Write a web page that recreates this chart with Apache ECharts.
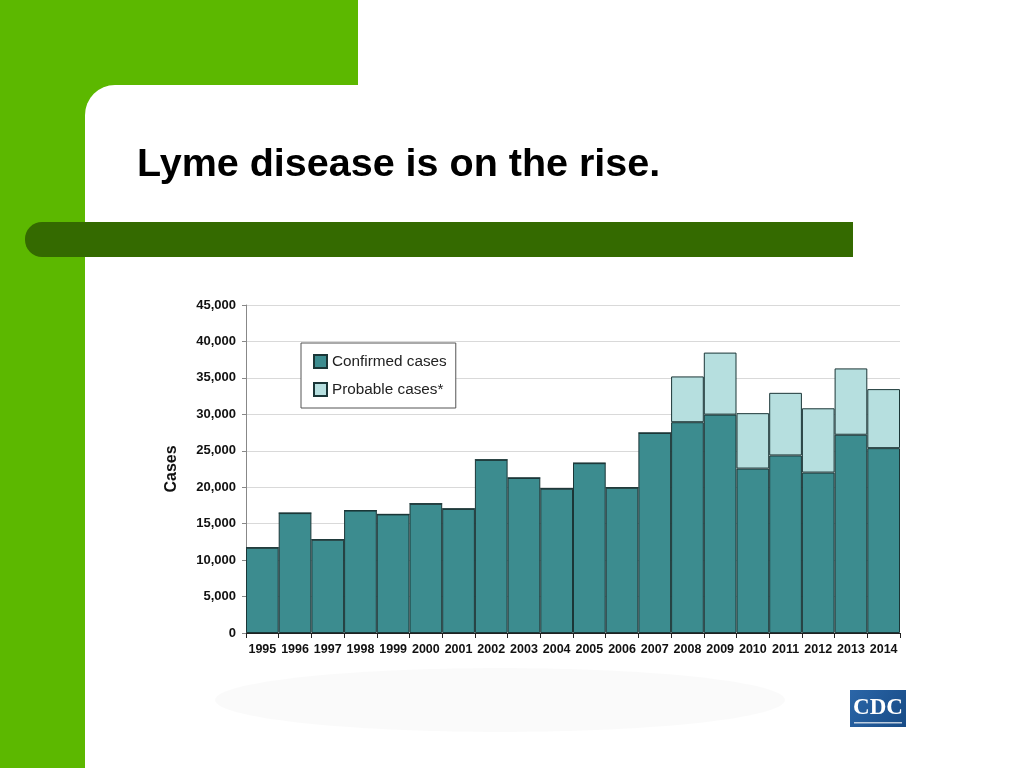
<!DOCTYPE html>
<html>
<head>
<meta charset="utf-8">
<script src="https://cdn.jsdelivr.net/npm/echarts@6/dist/echarts.min.js"></script>
<style>
  html, body { margin: 0; padding: 0; background: #fff; }
  #chart { width: 1024px; height: 768px; }
</style>
</head>
<body>
<div id="chart"></div>
<script>
// data
var years = ['1995', '1996', '1997', '1998', '1999', '2000', '2001', '2002', '2003', '2004',
  '2005', '2006', '2007', '2008', '2009', '2010', '2011', '2012', '2013', '2014']
var confirmed = [11700, 16450, 12800, 16800, 16270, 17730, 17030, 23760, 21270, 19800,
  23300, 19930, 27440, 28920, 29960, 22560, 24360, 22010, 27200, 25360]
var probable = [0, 0, 0, 0, 0, 0, 0, 0, 0, 0,
  0, 0, 0, 6280, 8510, 7600, 8590, 8820, 9100, 8100]
var seriesNames = ['Confirmed cases', 'Probable cases*']

var font = 'Liberation Sans, Arial, sans-serif'
var chart = echarts.init(document.getElementById('chart'))

chart.setOption({
  animation: false,
  backgroundColor: '#fff',
  title: {
    text: 'Lyme disease is on the rise.',
    left: 132,
    top: 140,
    textStyle: { fontFamily: font, fontSize: 39.5, fontWeight: 'bold', color: '#000' }
  },
  graphic: [
    // slide decoration
    { type: 'rect', z: -10, silent: true, shape: { x: 0, y: 0, width: 358, height: 140 }, style: { fill: '#5cb800' } },
    { type: 'rect', z: -10, silent: true, shape: { x: 0, y: 0, width: 85, height: 768 }, style: { fill: '#5cb800' } },
    { type: 'rect', z: -9, silent: true, shape: { x: 85, y: 85, width: 939, height: 683, r: [30, 0, 0, 0] }, style: { fill: '#fff' } },
    { type: 'rect', z: -8, silent: true, shape: { x: 25, y: 222, width: 828, height: 35, r: [17, 0, 0, 17] }, style: { fill: '#346a00' } },
    // faint smudge under the chart
    { type: 'ellipse', z: -8, silent: true, shape: { cx: 500, cy: 700, rx: 285, ry: 32 }, style: { fill: 'rgba(0,0,0,0.02)', shadowBlur: 25, shadowColor: 'rgba(0,0,0,0.04)' } },
    // CDC logo
    { type: 'rect', z: 5, silent: true, shape: { x: 850, y: 690, width: 56, height: 37 }, style: { fill: new echarts.graphic.LinearGradient(0, 0, 1, 1, [{ offset: 0, color: '#2b66a8' }, { offset: 1, color: '#174b86' }]) } },
    { type: 'text', z: 6, silent: true, x: 878, y: 708, style: { text: 'CDC', fill: '#fff', font: 'bold 23px "Liberation Serif", "DejaVu Serif", serif', textAlign: 'center', textVerticalAlign: 'middle' } },
    { type: 'rect', z: 6, silent: true, shape: { x: 854, y: 722, width: 48, height: 1.5 }, style: { fill: 'rgba(255,255,255,0.7)' } }
  ],
  legend: {
    orient: 'vertical',
    left: 301,
    top: 343,
    padding: [11, 9, 11, 12],
    itemWidth: 13,
    itemHeight: 13,
    itemGap: 13,
    icon: 'rect',
    borderColor: '#555',
    borderWidth: 1,
    backgroundColor: '#fff',
    textStyle: { fontFamily: font, fontSize: 15.3, color: '#222' },
    data: seriesNames
  },
  grid: { left: 246, right: 124, top: 305, bottom: 135 },
  xAxis: {
    type: 'category',
    data: years,
    axisLine: { lineStyle: { color: '#222', width: 1 } },
    axisTick: { show: true, length: 5, lineStyle: { color: '#222' } },
    axisLabel: { fontFamily: font, fontSize: 12.5, fontWeight: 'bold', color: '#111', margin: 10, interval: 0 },
    splitLine: { show: false }
  },
  yAxis: {
    type: 'value',
    min: 0,
    max: 45000,
    interval: 5000,
    name: 'Cases',
    nameLocation: 'middle',
    nameGap: 66,
    nameTextStyle: { fontFamily: font, fontSize: 16, fontWeight: 'bold', color: '#111' },
    axisLine: { show: true, lineStyle: { color: '#888' } },
    axisTick: { show: true, length: 4, lineStyle: { color: '#888' } },
    axisLabel: {
      fontFamily: font, fontSize: 13, fontWeight: 'bold', color: '#111', margin: 10,
      formatter: function (v) { return v.toLocaleString('en-US') }
    },
    splitLine: { lineStyle: { color: '#d9d9d9', width: 1 } }
  },
  series: [
    {
      name: seriesNames[0],
      type: 'bar',
      stack: 'cases',
      barWidth: '100%',
      barCategoryGap: 0,
      data: confirmed,
      itemStyle: { color: '#3c8c8f', borderColor: '#1b3637', borderWidth: 1 }
    },
    {
      name: seriesNames[1],
      type: 'bar',
      stack: 'cases',
      barWidth: '100%',
      barCategoryGap: 0,
      data: probable,
      itemStyle: { color: '#b6dfdf', borderColor: '#1b3637', borderWidth: 1 }
    }
  ]
})
</script>
</body>
</html>
